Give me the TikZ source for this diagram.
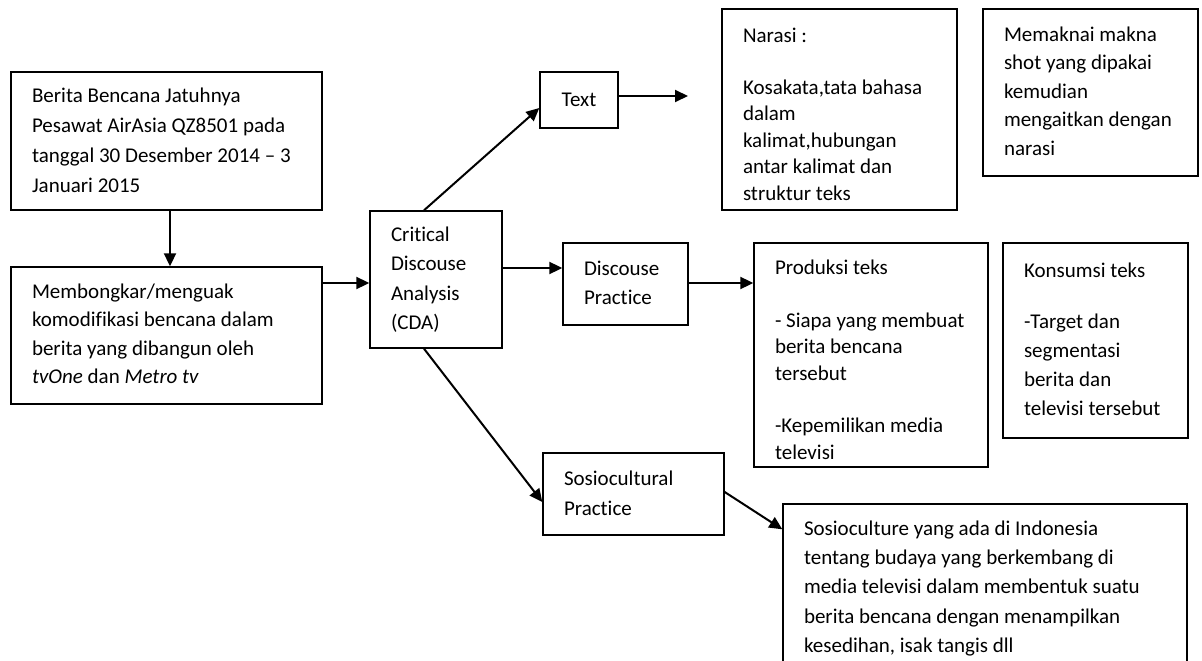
\documentclass[tikz,border=0pt]{standalone}
\usepackage{fontspec}
\setmainfont{Carlito}[Ligatures=NoCommon]
\usetikzlibrary{arrows.meta,calc}
\newcommand\boxlines[2]{\makebox[#1][l]{\begin{tabular}{@{}l@{}}#2\end{tabular}}}
\begin{document}
\begin{tikzpicture}[x=1pt,y=-1pt,
  box/.style={draw, line width=1.4pt, inner xsep=21pt, inner ysep=0pt, anchor=center},
  arr/.style={line width=2pt, -{Triangle[length=13pt,width=12pt]}},
  fs/.style={font=\fontsize{21}{#1}\selectfont}
]
\useasboundingbox (0,0) rectangle (1202,661);
\node[box, fs=30, minimum width=311pt, minimum height=138pt] (b1) at (166.5,141)
  {\boxlines{269pt}{Berita Bencana Jatuhnya\\Pesawat AirAsia QZ8501 pada\\tanggal 30 Desember 2014 – 3\\Januari 2015}};
\node[box, fs=28.5, minimum width=311pt, minimum height=137pt] (b2) at (166.5,335.5)
  {\boxlines{269pt}{Membongkar/menguak\\komodifikasi bencana dalam\\berita yang dibangun oleh\\\textit{tvOne} dan \textit{Metro tv}}};
\node[box, fs=29.3, minimum width=132pt, minimum height=137pt] (cda) at (436,279.5)
  {\boxlines{90pt}{Critical\\Discouse\\Analysis\\(CDA)}};
\node[box, fs=29, inner xsep=0pt, minimum width=78pt, minimum height=56pt] (txt) at (579,100)
  {Text};
\node[box, fs=29, minimum width=125pt, minimum height=82pt] (dp) at (625.5,284)
  {\boxlines{83pt}{Discouse\\Practice}};
\node[box, fs=30, minimum width=181pt, minimum height=82pt] (sp) at (633.5,494)
  {\boxlines{139pt}{Sosiocultural\\Practice}};
\node[box, fs=26.5, minimum width=235pt, minimum height=201pt] (nar) at (839.5,109.5)
  {\raisebox{-6.5pt}[\height][\depth]{\boxlines{193pt}{Narasi :\\[25.5pt]Kosakata,tata bahasa\\dalam\\kalimat,hubungan\\antar kalimat dan\\struktur teks}}};
\node[box, fs=28.5, minimum width=215pt, minimum height=167pt] (mem) at (1090.5,92.5)
  {\boxlines{173pt}{Memaknai makna\\shot yang dipakai\\kemudian\\mengaitkan dengan\\narasi}};
\node[box, fs=26.5, minimum width=234pt, minimum height=224pt] (prod) at (871,355)
  {\raisebox{-6.5pt}[\height][\depth]{\boxlines{192pt}{Produksi teks\\[26pt]- Siapa yang membuat\\berita bencana\\tersebut\\[26pt]-Kepemilikan media\\televisi}}};
\node[box, fs=29, minimum width=185pt, minimum height=195pt] (kon) at (1095.5,340.5)
  {\boxlines{143pt}{Konsumsi teks\\[22pt]-Target dan\\segmentasi\\berita dan\\televisi tersebut}};
\node[box, fs=29.2, minimum width=404pt, minimum height=168pt] (soc) at (985,588)
  {\boxlines{362pt}{Sosioculture yang ada di Indonesia\\tentang budaya yang berkembang di\\media televisi dalam membentuk suatu\\berita bencana dengan menampilkan\\kesedihan, isak tangis dll}};
\coordinate (tend) at (688,96);
\draw[arr] ([xshift=3.5pt]b1.south) -- ([xshift=3.5pt]b2.north);
\draw[arr] ($(b2.east |- cda.west)+(0,3.5)$) -- ($(cda.west)+(0,3.5)$);
\draw[arr] ($(cda.north)+(-12,0)$) -- ($(txt.west)+(0,8)$);
\draw[arr] (txt.east |- tend) -- (tend);
\draw[arr] ($(cda.east)+(0,-11.5)$) coordinate (c1) -- (c1 -| dp.west);
\draw[arr] ($(dp.east)+(0,-1)$) coordinate (c2) -- (c2 -| prod.west);
\draw[arr] ($(cda.south)+(-12,0)$) -- ($(sp.west)+(0,8)$);
\draw[arr] ($(sp.east)+(0,-2)$) -- ($(soc.north west)+(0,26)$);
\end{tikzpicture}
\end{document}
